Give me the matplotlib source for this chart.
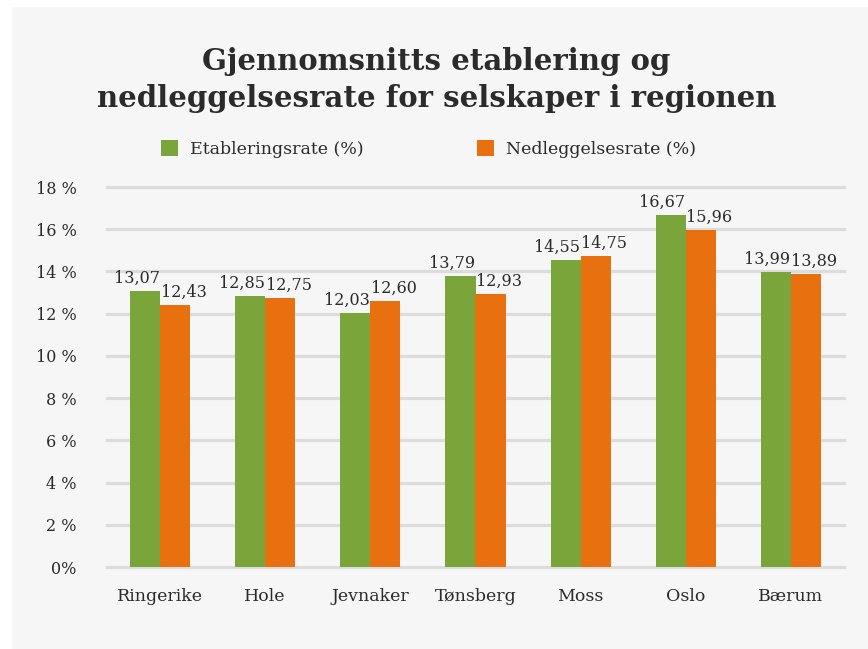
import matplotlib
import matplotlib.pyplot as plt
import numpy as np
from matplotlib.patches import Rectangle

matplotlib.use("Agg")

regions = ["Ringerike", "Hole", "Jevnaker", "Tønsberg", "Moss", "Oslo", "Bærum"]
etablering = [13.07, 12.85, 12.03, 13.79, 14.55, 16.67, 13.99]
nedleggelse = [12.43, 12.75, 12.60, 12.93, 14.75, 15.96, 13.89]
yticks = [0, 2, 4, 6, 8, 10, 12, 14, 16, 18]
ytick_labels = ["0%"] + ["%d %%" % v for v in yticks[1:]]

green = "#7aa53a"
orange = "#e9700f"
panel = "#f6f6f6"
grid = "#dcdcdd"
text = "#2b2b2b"
font = "DejaVu Serif"

fig = plt.figure(figsize=(8.68, 6.49), dpi=100, facecolor="white")
fig.patches.append(Rectangle((12 / 868, 0), 1, 1 - 7 / 649, transform=fig.transFigure,
                             facecolor=panel, edgecolor="none", zorder=-10))

ax = fig.add_axes([107 / 868, 1 - 567 / 649, 737 / 868, 380 / 649])
ax.set_facecolor("none")

x = np.arange(len(regions))
w = 0.286
b1 = ax.bar(x - w / 2, etablering, w, color=green, zorder=3, label="Etableringsrate (%)")
b2 = ax.bar(x + w / 2, nedleggelse, w, color=orange, zorder=3, label="Nedleggelsesrate (%)")

# value labels, nudged apart so neighbours do not collide
for bars, vals, dx in ((b1, etablering, -6), (b2, nedleggelse, 6)):
    for rect, v in zip(bars, vals):
        ax.annotate(("%.2f" % v).replace(".", ","),
                    (rect.get_x() + rect.get_width() / 2, v),
                    xytext=(dx, 3), textcoords="offset points",
                    ha="center", va="bottom", fontsize=11.5, color=text, family=font)

ax.set_xlim(-0.505, len(regions) - 0.495)
ax.set_ylim(0, 18)
ax.set_yticks(yticks)
ax.set_yticklabels(ytick_labels, family=font, fontsize=11.5, color=text)
ax.set_xticks(x)
ax.set_xticklabels(regions, family=font, fontsize=12.5, color=text)
ax.tick_params(length=0)
ax.tick_params(axis="y", pad=22)
ax.tick_params(axis="x", pad=15)
for s in ax.spines.values():
    s.set_visible(False)
for v in yticks:
    ax.axhline(v, color=grid, lw=2.3, zorder=1, clip_on=False)

fig.text(0.503, 1 - 80 / 649, "Gjennomsnitts etablering og\nnedleggelsesrate for selskaper i regionen",
         ha="center", va="center", fontsize=21, fontweight="bold", family=font,
         color=text, linespacing=1.38)

ax.legend(loc="center", bbox_to_anchor=(0.5 - 47 / 737, 1 + 38 / 380), ncol=2, frameon=False,
          prop={"family": font, "size": 12.5}, handlelength=1.0, handleheight=1.0,
          columnspacing=6.5, handletextpad=0.7, labelcolor=text)

fig.savefig("out.png", dpi=100, facecolor="white")
